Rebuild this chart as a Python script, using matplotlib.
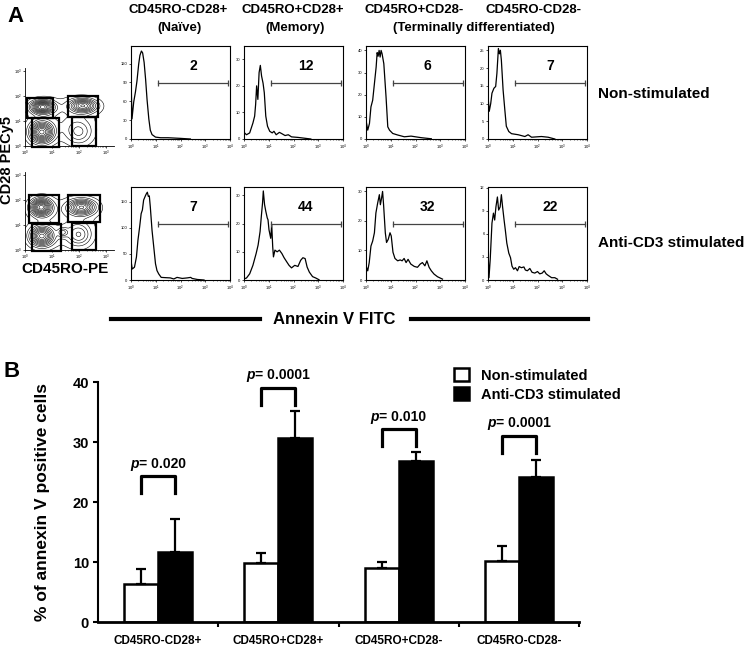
import numpy as np
import matplotlib
matplotlib.use("Agg")
import matplotlib.pyplot as plt
from matplotlib.patches import Rectangle
from matplotlib.offsetbox import HPacker, TextArea, AnnotationBbox

plt.rcParams['font.family'] = ['Liberation Sans', 'DejaVu Sans']

W, H = 750, 651

# ---------------- panel A data ----------------
subsets = ["CD45RO-CD28+", "CD45RO+CD28+", "CD45RO+CD28-", "CD45RO-CD28-"]
conditions = ["Non-stimulated", "Anti-CD3 stimulated"]

# Annexin V histograms: log10 fluorescence and cell counts
ns_naive_log = [0.0, 0.04, 0.11, 0.18, 0.24, 0.31, 0.36, 0.42, 0.47, 0.53, 0.59, 0.65, 0.72, 0.78, 0.85, 0.99, 1.2, 1.5, 2.0, 2.4]
ns_naive_cnt = [100, 32, 59, 75, 92, 119, 133, 140, 137, 122, 95, 62, 32, 14, 7, 3, 2, 2, 1, 0]
ns_mem_log = [0.0, 0.10, 0.23, 0.36, 0.43, 0.47, 0.51, 0.56, 0.61, 0.66, 0.71, 0.77, 0.82, 0.88, 0.95, 1.04, 1.14, 1.21, 1.30, 1.43, 1.53, 1.66, 1.79, 1.92, 2.18, 2.44, 2.70]
ns_mem_cnt = [2.5, 1.6, 2.3, 6, 8.6, 13, 20, 14.9, 25, 27.7, 23.7, 21, 17.4, 8.6, 4.8, 2.9, 2.3, 2.9, 1.6, 2.5, 2, 1.3, 1.6, 0.8, 0.6, 0.3, 0]
ns_term_log = [0.0, 0.07, 0.14, 0.20, 0.27, 0.34, 0.41, 0.45, 0.49, 0.53, 0.57, 0.61, 0.65, 0.72, 0.81, 0.88, 0.95, 1.08, 1.28, 1.55, 1.82, 2.23, 2.64]
ns_term_cnt = [8.5, 4, 7, 14.5, 17.5, 25, 32.5, 39, 37.4, 40, 37, 40, 38.5, 34, 19, 5.5, 4, 2.5, 1.8, 1, 1.3, 0.6, 0.1]
ns_dn_log = [0.0, 0.05, 0.11, 0.16, 0.24, 0.31, 0.36, 0.42, 0.46, 0.50, 0.54, 0.61, 0.68, 0.74, 0.84, 0.95, 1.22, 1.49, 1.62, 1.76, 2.16, 2.43, 2.70]
ns_dn_cnt = [12, 7.8, 10, 12.9, 14.3, 14.8, 18.5, 25.5, 24, 25, 22.2, 13.8, 8.2, 3.6, 2.1, 1.5, 1.2, 0.7, 1.2, 0.5, 0.7, 0.5, 0]

st_naive_log = [0.0, 0.05, 0.14, 0.22, 0.28, 0.35, 0.41, 0.46, 0.51, 0.58, 0.62, 0.66, 0.70, 0.74, 0.78, 0.85, 0.92, 0.99, 1.05, 1.12, 1.22, 1.39, 1.59, 1.73, 1.86, 2.07, 2.27, 2.41, 2.47, 2.68, 2.95]
st_naive_cnt = [37, 21, 24.5, 44, 76, 102, 127, 134, 153, 161, 165, 168, 160, 161, 140, 95, 63, 31, 18, 11.6, 5, 4.5, 4, 2, 5, 3, 4, 5, 3, 1, 0]
st_mem_log = [0.0, 0.10, 0.23, 0.36, 0.49, 0.57, 0.65, 0.70, 0.75, 0.78, 0.83, 0.88, 0.94, 0.97, 1.01, 1.08, 1.12, 1.16, 1.19, 1.25, 1.34, 1.43, 1.53, 1.62, 1.73, 1.82, 1.92, 2.05, 2.18, 2.29, 2.38, 2.47, 2.55, 2.64, 2.77, 2.90, 3.03]
st_mem_cnt = [0.4, 0.7, 2.2, 5.2, 9.4, 12.4, 17.2, 22.6, 27.4, 31.6, 26.8, 24.4, 22, 21.4, 17.8, 14.8, 19.6, 11.8, 8.2, 10.6, 10, 10.6, 9.4, 7.9, 6.4, 5.2, 4.3, 5.2, 4.8, 7, 7.9, 7.6, 4.6, 2.8, 1.2, 0.7, 0.1]
st_term_log = [0.0, 0.07, 0.13, 0.20, 0.27, 0.34, 0.40, 0.47, 0.54, 0.58, 0.63, 0.67, 0.71, 0.78, 0.83, 0.90, 0.97, 1.02, 1.09, 1.17, 1.28, 1.38, 1.46, 1.54, 1.62, 1.70, 1.81, 1.95, 2.08, 2.19, 2.28, 2.38, 2.46, 2.55, 2.64, 2.75, 2.89, 3.09]
st_term_cnt = [4.8, 3.1, 5.9, 11.5, 13.2, 16, 22.7, 26, 28.9, 25.5, 27.8, 30, 25.5, 16, 12.7, 13.8, 16, 14.9, 9.4, 7.3, 6.5, 6.8, 6.5, 7.3, 5.9, 7, 5.4, 4.6, 4.3, 5.4, 5.9, 4.8, 6.5, 4.3, 3.1, 2, 1.1, 0.3]
st_dn_log = [0.0, 0.04, 0.09, 0.16, 0.22, 0.27, 0.32, 0.38, 0.43, 0.49, 0.54, 0.59, 0.65, 0.70, 0.76, 0.84, 0.91, 0.97, 1.04, 1.11, 1.19, 1.26, 1.35, 1.45, 1.51, 1.59, 1.69, 1.78, 1.89, 2.0, 2.09, 2.19, 2.27, 2.35, 2.43, 2.57, 2.70, 2.81]
st_dn_cnt = [4, 0.3, 2.7, 7.4, 8.7, 7.8, 9.5, 10.8, 9.1, 9.5, 11.1, 9.5, 7.8, 6.5, 4.8, 3.5, 2.9, 1.8, 1.4, 1.6, 1.2, 1.75, 1.6, 1.7, 1.3, 1.2, 1.5, 1, 0.9, 1.1, 0.8, 0.9, 1.2, 0.8, 0.6, 0.3, 0.3, 0.1]

hist_logs = [[ns_naive_log, ns_mem_log, ns_term_log, ns_dn_log],
             [st_naive_log, st_mem_log, st_term_log, st_dn_log]]
hist_cnts = [[ns_naive_cnt, ns_mem_cnt, ns_term_cnt, ns_dn_cnt],
             [st_naive_cnt, st_mem_cnt, st_term_cnt, st_dn_cnt]]
pct_positive = [[2, 12, 6, 7], [7, 44, 32, 22]]
hist_ymax = [[148, 35, 42, 26.2], [178, 33, 31.5, 12.1]]
hist_yticks = [[[0, 30, 60, 90, 120], [0, 10, 20, 30], [0, 10, 20, 30, 40], [0, 5, 10, 15, 20, 25]],
               [[0, 50, 100, 150], [0, 10, 20, 30], [0, 10, 20, 30], [0, 3, 6, 9, 12]]]
gate_log = (1.1, 3.9)

# CD45RO-PE vs CD28-PECy5 populations: (log x, log y, spread x, spread y, weight)
ns_populations = [(0.65, 1.55, 0.28, 0.17, 1.0), (0.62, 0.55, 0.28, 0.27, 1.0),
                  (2.15, 1.6, 0.33, 0.18, 0.8), (2.0, 0.55, 0.33, 0.33, 0.3),
                  (1.4, 1.1, 0.8, 0.55, 0.12)]
st_populations = [(0.6, 1.7, 0.25, 0.22, 1.0), (0.62, 0.55, 0.28, 0.25, 0.9),
                  (2.1, 1.7, 0.33, 0.2, 0.8), (2.0, 0.6, 0.3, 0.3, 0.35),
                  (1.4, 0.7, 0.12, 0.12, 0.3), (1.4, 1.1, 0.8, 0.6, 0.12)]
# gates (x0, x1, y0, y1) in log10 units
ns_gates = [(0.06, 1.05, 1.11, 1.89), (0.25, 1.27, -0.04, 1.1),
            (1.6, 2.72, 1.15, 1.99), (1.73, 2.65, 0.0, 1.15)]
st_gates = [(0.16, 1.27, 1.09, 2.18), (0.25, 1.32, -0.05, 1.03),
            (1.58, 2.78, 1.12, 2.18), (1.73, 2.65, 0.0, 1.09)]

# ---------------- panel B data ----------------
categories = ["CD45RO-CD28+", "CD45RO+CD28+", "CD45RO+CD28-", "CD45RO-CD28-"]
nonstim_mean = [6.3, 9.9, 9.05, 10.2]
nonstim_sd = [2.5, 1.6, 0.9, 2.5]
stim_mean = [11.7, 30.7, 26.9, 24.1]
stim_sd = [5.4, 4.4, 1.5, 2.95]
p_values = ["0.020", "0.0001", "0.010", "0.0001"]
bracket_top = [24.3, 39.0, 32.1, 31.0]


def px_axes(x0, y0, x1, y1):
    return fig.add_axes([x0 / W, 1 - y1 / H, (x1 - x0) / W, (y1 - y0) / H])


def ftext(x, y, s, **kw):
    fig.text(x / W, 1 - y / H, s, ha='center', va='center', **kw)


fig = plt.figure(figsize=(7.5, 6.51), dpi=100)

# ---------- panel A: histograms ----------
hist_left = [131, 244, 366, 488]
row_top = [46, 187]
for r in range(2):
    for c in range(4):
        ax = px_axes(hist_left[c], row_top[r], hist_left[c] + 99, row_top[r] + 93)
        ax.plot(np.power(10.0, hist_logs[r][c]), hist_cnts[r][c], color='black', lw=0.9)
        ax.set_xscale('log')
        ax.set_xlim(1, 1e4)
        ymax = hist_ymax[r][c]
        ax.set_ylim(0, ymax)
        ax.set_yticks(hist_yticks[r][c])
        ax.tick_params(labelsize=3, length=1.5, width=0.5, pad=1)
        ax.tick_params(which='minor', length=1, width=0.4)
        for s in ax.spines.values():
            s.set_linewidth(0.8)
        gy = 0.6 * ymax
        ax.plot([10 ** gate_log[0], 10 ** gate_log[1]], [gy, gy], color='#444444',
                lw=0.9, marker='|', ms=4, mew=0.9)
        ax.text(10 ** 2.5, 0.78 * ymax, str(pct_positive[r][c]), ha='center', va='center',
                fontsize=10, fontweight='bold')

# ---------- panel A: contour plots ----------
gx = np.linspace(0, 3.3, 220)
gy_ = np.linspace(0, 3.1, 220)
GX, GY = np.meshgrid(gx, gy_)
for r, (pops, gates) in enumerate([(ns_populations, ns_gates), (st_populations, st_gates)]):
    top = [68, 172][r]
    ax = px_axes(25, top, 114, top + 78)
    Z = np.zeros_like(GX)
    for (mx, my, sx, sy, w) in pops:
        Z += w * np.exp(-0.5 * (((GX - mx) / sx) ** 2 + ((GY - my) / sy) ** 2))
    levels = np.linspace(0.06, 0.95, 12) * Z.max()
    ax.contour(10 ** GX, 10 ** GY, Z, levels=levels, colors='black', linewidths=0.4)
    for (x0, x1, y0, y1) in gates:
        ax.add_patch(Rectangle((10 ** x0, 10 ** y0), 10 ** x1 - 10 ** x0, 10 ** y1 - 10 ** y0,
                               fill=False, ec='black', lw=1.6, clip_on=False))
    ax.set_xscale('log')
    ax.set_yscale('log')
    ax.set_xlim(1, 10 ** 3.3)
    ax.set_ylim(1, 10 ** 3.1)
    ax.set_xticks([1, 10, 100, 1000])
    ax.set_yticks([1, 10, 100, 1000])
    ax.spines['top'].set_visible(False)
    ax.spines['right'].set_visible(False)
    for s in ('left', 'bottom'):
        ax.spines[s].set_linewidth(0.6)
    ax.tick_params(labelsize=3, length=1.5, width=0.5, pad=0.5)
    ax.tick_params(which='minor', length=1, width=0.4)
    ax.tick_params(axis='y', which='minor', left=False)

# ---------- panel A: texts ----------
ftext(15, 16, "A", fontsize=16, fontweight='bold')
ftext(12, 371, "B", fontsize=16, fontweight='bold')
head_x = [178, 293, 414, 533]
for x, s in zip(head_x, subsets):
    ftext(x, 10, s, fontsize=9.5, fontweight='bold')
ftext(179, 28, "(Naïve)", fontsize=9.5, fontweight='bold')
ftext(295, 28, "(Memory)", fontsize=9.5, fontweight='bold')
ftext(474, 28, "(Terminally differentiated)", fontsize=9.5, fontweight='bold')
fig.text(598 / W, 1 - 94 / H, conditions[0], ha='left', va='center', fontsize=11, fontweight='bold')
fig.text(598 / W, 1 - 243 / H, conditions[1], ha='left', va='center', fontsize=11, fontweight='bold')
ftext(7, 160, "CD28 PECy5", fontsize=10.5, fontweight='bold', rotation=90)
ftext(65, 269, "CD45RO-PE", fontsize=11, fontweight='bold')
ftext(334, 319, "Annexin V FITC", fontsize=12, fontweight='bold')
for (xa, xb) in [(111, 260), (411, 588)]:
    fig.add_artist(plt.Line2D([xa / W, xb / W], [1 - 319 / H, 1 - 319 / H], color='black',
                              lw=3, transform=fig.transFigure))

# ---------- panel B ----------
axb = px_axes(98, 382, 579, 622)
x = np.arange(len(categories))
bw = 0.283
zeros = np.zeros(len(categories))
axb.bar(x - bw / 2, nonstim_mean, bw, color='white', edgecolor='black', lw=1.8,
        yerr=[zeros, nonstim_sd], capsize=3.5,
        error_kw=dict(elinewidth=1.6, capthick=1.6, ecolor='black'), label=conditions[0])
axb.bar(x + bw / 2, stim_mean, bw, color='black', edgecolor='black', lw=1.8,
        yerr=[zeros, stim_sd], capsize=3.5,
        error_kw=dict(elinewidth=1.6, capthick=1.6, ecolor='black'), label=conditions[1])
axb.set_xlim(-0.5, 3.5)
axb.set_ylim(0, 40)
axb.set_yticks([0, 10, 20, 30, 40])
axb.set_xticks([0.5, 1.5, 2.5, 3.5], labels=[])
axb.set_xticks(x, labels=categories, minor=True)
axb.tick_params(axis='x', which='minor', length=0, pad=9, labelsize=8.5)
axb.tick_params(axis='x', which='major', length=3.5, width=1.5)
axb.tick_params(axis='y', length=3.5, width=1.5, labelsize=10.5, pad=3)
for lab in axb.get_xticklabels(minor=True) + axb.get_yticklabels():
    lab.set_fontweight('bold')
axb.spines['top'].set_visible(False)
axb.spines['right'].set_visible(False)
axb.spines['left'].set_linewidth(1.5)
axb.spines['bottom'].set_linewidth(2)
axb.set_ylabel("% of annexin V positive cells", fontsize=12.5, fontweight='bold')
axb.yaxis.set_label_coords(-0.1, 0.5)

for i in range(len(categories)):
    t = bracket_top[i]
    axb.plot([i - bw / 2, i - bw / 2, i + bw / 2, i + bw / 2], [t - 2.8, t, t, t - 2.8],
             color='black', lw=2.3, clip_on=False)
    box = HPacker(children=[TextArea("p", textprops=dict(style='italic', weight='bold', size=10)),
                            TextArea("= " + p_values[i], textprops=dict(weight='bold', size=10))],
                  sep=0, pad=0, align='baseline')
    axb.add_artist(AnnotationBbox(box, (i, t + 2.1), frameon=False, box_alignment=(0.5, 0.5),
                                  annotation_clip=False))

fig.legend(loc='upper left', bbox_to_anchor=(447 / W, 1 - 361 / H), frameon=False,
           handlelength=1.0, handleheight=1.0, handletextpad=0.8,
           labelspacing=0.3, prop=dict(weight='bold', size=10.5), borderpad=0)

fig.savefig("out.png", dpi=100)
